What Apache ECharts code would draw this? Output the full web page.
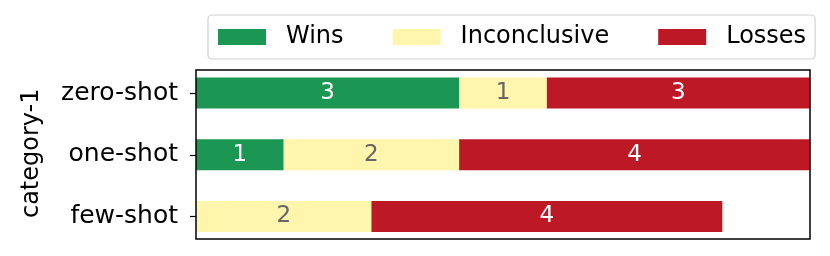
<!DOCTYPE html>
<html>
<head>
<meta charset="utf-8">
<script src="https://cdn.jsdelivr.net/npm/echarts@6/dist/echarts.min.js"></script>
<style>html,body{margin:0;padding:0;background:#fff}#c{width:830px;height:256px}</style>
</head>
<body>
<div id="c"></div>
<script>
const categories = ['zero-shot', 'one-shot', 'few-shot'];
const wins = [3, 1, 0];
const inconclusive = [1, 2, 2];
const losses = [3, 4, 4];
const seriesNames = ['Wins', 'Inconclusive', 'Losses'];
const axisTitle = 'category-1';

const FONT = 'DejaVu Sans';
const colors = ['#1b9753', '#fff5ad', '#bd1826'];
const labelColors = ['#ffffff', '#666666', '#ffffff'];

const chart = echarts.init(document.getElementById('c'), null, {renderer: 'canvas'});
const mk = (name, data, i) => ({
  name: name,
  type: 'bar',
  stack: 'total',
  xAxisIndex: 0,
  yAxisIndex: 0,
  data: data,
  barWidth: 31,
  itemStyle: {color: colors[i]},
  label: {
    show: true,
    position: 'inside',
    color: labelColors[i],
    fontFamily: FONT,
    fontSize: 23,
    formatter: p => (p.value === 0 ? '' : String(p.value))
  },
  emphasis: {disabled: true}
});
chart.setOption({
  animation: false,
  textStyle: {fontFamily: FONT},
  legend: {
    data: seriesNames,
    left: 208,
    top: 15,
    padding: [10, 9, 10, 10],
    borderColor: '#d0d0d0',
    borderWidth: 1.2,
    borderRadius: 4,
    itemGap: 49,
    itemWidth: 48,
    itemHeight: 16,
    icon: 'rect',
    textStyle: {fontFamily: FONT, fontSize: 24, color: '#000', padding: [0, 0, 0, 15]}
  },
  grid: [
    {
      left: 196, right: 20, top: 62.2, bottom: 8.7,
      outerBoundsMode: 'none', containLabel: false, show: false
    },
    {
      left: 196, right: 20, top: 70, bottom: 17,
      outerBoundsMode: 'none', containLabel: false,
      show: true, borderColor: '#000', borderWidth: 1.5, backgroundColor: 'transparent', z: 5
    }
  ],
  xAxis: [
    {
      gridIndex: 0, type: 'value', min: 0, max: 7,
      axisLabel: {show: false}, axisTick: {show: false},
      axisLine: {show: false}, splitLine: {show: false}
    },
    {
      gridIndex: 1, type: 'value', min: 0, max: 1, show: false
    }
  ],
  yAxis: [
    {
      gridIndex: 0, type: 'category', data: categories, inverse: true,
      name: axisTitle, nameLocation: 'middle', nameGap: 152,
      nameTextStyle: {fontFamily: FONT, fontSize: 24, color: '#000', padding: [0, 0, 0, 3]},
      axisLine: {show: false},
      axisTick: {show: true, alignWithLabel: true, length: 6, lineStyle: {color: '#000', width: 1.2}},
      axisLabel: {fontFamily: FONT, fontSize: 25, color: '#000', margin: 18}
    },
    {
      gridIndex: 1, type: 'value', min: 0, max: 1, show: false
    }
  ],
  series: [mk(seriesNames[0], wins, 0), mk(seriesNames[1], inconclusive, 1), mk(seriesNames[2], losses, 2)]
});
</script>
</body>
</html>
